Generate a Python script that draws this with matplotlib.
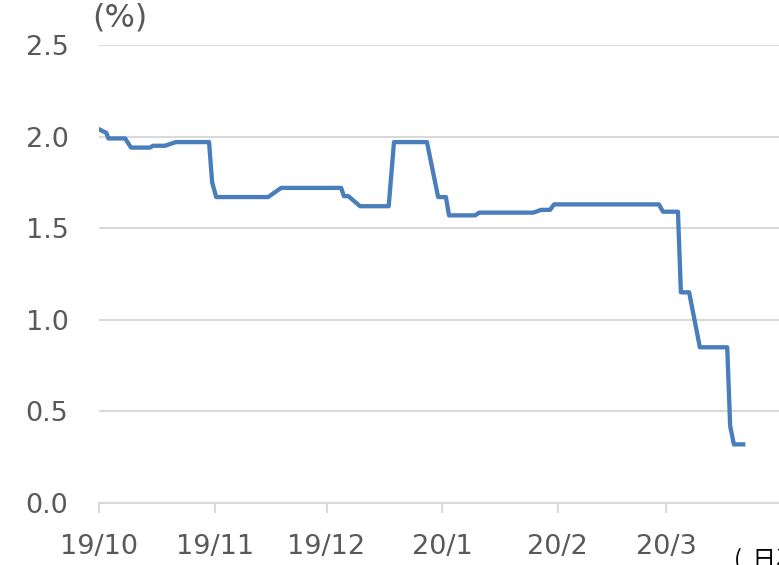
import matplotlib
matplotlib.use('Agg')
import matplotlib.pyplot as plt
import pandas as pd

plt.rcParams['font.family'] = ['DejaVu Sans', 'Noto Sans CJK JP']

# traced vertices of the yield line
dates = ['2019-10-01', '2019-10-03', '2019-10-03 12:00', '2019-10-08', '2019-10-09 14:00',
         '2019-10-14 16:00', '2019-10-15 12:00', '2019-10-18 16:00', '2019-10-21 14:00',
         '2019-10-30 12:00', '2019-10-31 08:00', '2019-11-01 10:00', '2019-11-15 08:00',
         '2019-11-18 20:00', '2019-12-04 22:00', '2019-12-05 16:00', '2019-12-06 20:00',
         '2019-12-10', '2019-12-17 16:00', '2019-12-19 02:00', '2019-12-27 22:00',
         '2019-12-30 22:00', '2020-01-02', '2020-01-02 20:00', '2020-01-09 20:00',
         '2020-01-10 22:00', '2020-01-25 10:00', '2020-01-27 12:00', '2020-01-29 22:00',
         '2020-01-31', '2020-02-28 02:00', '2020-02-29 05:00', '2020-03-04 05:00',
         '2020-03-05', '2020-03-07 05:00', '2020-03-10 02:00', '2020-03-17 10:00',
         '2020-03-18 05:00', '2020-03-19 05:00', '2020-03-21 17:00']
values = [2.04, 2.02, 1.99, 1.99, 1.94, 1.94, 1.95, 1.95, 1.97, 1.97, 1.75, 1.67, 1.67,
          1.72, 1.72, 1.675, 1.675, 1.62, 1.62, 1.97, 1.97, 1.67, 1.67, 1.57, 1.57,
          1.585, 1.585, 1.60, 1.60, 1.63, 1.63, 1.59, 1.59, 1.15, 1.15, 0.85, 0.85,
          0.42, 0.32, 0.32]

tick_dates = ['2019-10-01', '2019-11-01', '2019-12-01', '2020-01-01', '2020-02-01', '2020-03-01']
tick_labels = ['19/10', '19/11', '19/12', '20/1', '20/2', '20/3']
yticks = [0.0, 0.5, 1.0, 1.5, 2.0, 2.5]

grey = '#595959'
grid = '#d9d9d9'

fig = plt.figure(figsize=(7.79, 5.65), dpi=100)
ax = fig.add_axes([99 / 779, 62 / 565, 680 / 779, 458 / 565])

x = pd.to_datetime(dates, format='mixed')
ax.plot(x, values, color='#4a7ebb', lw=3.1, solid_joinstyle='round', zorder=3)

start = pd.Timestamp('2019-10-01')
ax.set_xlim(start, start + pd.Timedelta(days=182.3))
ax.set_ylim(0, 2.5)

ax.set_yticks(yticks)
ax.set_yticklabels(['%.1f' % v for v in yticks])
ax.set_xticks(pd.to_datetime(tick_dates))
ax.set_xticklabels(tick_labels)

ax.grid(axis='y', color=grid, lw=1.5, zorder=0)
for s in ['left', 'right', 'top']:
    ax.spines[s].set_visible(False)
ax.spines['bottom'].set_color(grid)
ax.spines['bottom'].set_linewidth(1.5)

ax.tick_params(axis='y', length=0, pad=22, labelsize=19.5, labelcolor=grey)
ax.tick_params(axis='x', length=7, width=1.5, color=grid, pad=15,
               labelsize=19.5, labelcolor=grey)

fig.text(92 / 779, 1 - 18 / 565, '(%)', fontsize=23, color=grey, va='center', ha='left')
# unit note at lower right, partly outside the canvas as in the source
fig.text(734 / 779, 1 - 547 / 565, '(  日次)', fontsize=17, color='#000000', va='top', ha='left',
         family=['Noto Sans CJK JP', 'DejaVu Sans'])

fig.savefig('out.png', dpi=100)
